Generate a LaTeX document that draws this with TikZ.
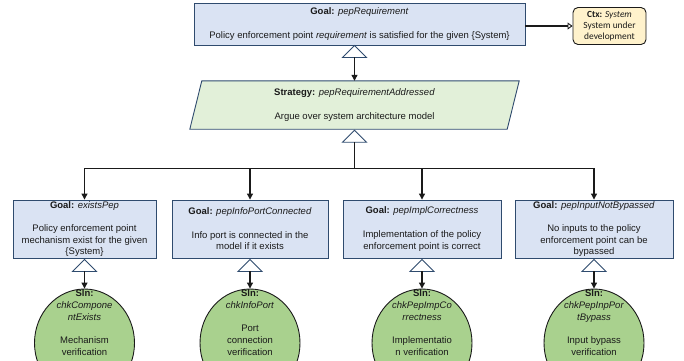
\documentclass[tikz,border=0pt]{standalone}
\usepackage{fontspec}
\setmainfont{Liberation Sans}
\newfontfamily\ctxfont{Carlito}
\usetikzlibrary{arrows.meta,calc,shapes.geometric,backgrounds}
\definecolor{goalfill}{HTML}{DAE3F3}
\definecolor{goalline}{HTML}{2F4B6E}
\definecolor{stratfill}{HTML}{E2F0D9}
\definecolor{slnfill}{HTML}{A9D18E}
\definecolor{ctxfill}{HTML}{FFF2CC}
\definecolor{ink}{HTML}{1A1A1A}

\begin{document}
\begin{tikzpicture}[x=1pt,y=-1pt,
  every node/.style={font=\fontsize{9.5}{11.7}\selectfont, inner sep=0pt, text=ink},
  goalbox/.style={draw=goalline, fill=goalfill, line width=0.9pt, align=center},
  stratbox/.style={align=center, minimum width=317pt, minimum height=48pt},
  stratshape/.style={draw=goalline, fill=stratfill, line width=0.9pt},
  ctxbox/.style={draw=ink, fill=ctxfill, line width=0.9pt, rounded corners=5pt,
    align=center, minimum width=73pt, minimum height=37pt,
    font=\ctxfont\fontsize{9.4}{11.2}\selectfont},
  slnshape/.style={ellipse, draw=ink, fill=slnfill, line width=0.9pt,
    minimum width=100pt, minimum height=108pt},
  slntext/.style={align=center, anchor=north},
  supp/.style={draw=ink, line width=1.1pt, -{Triangle[length=6pt,width=6pt]}},
  link/.style={draw=ink, line width=1.1pt},
  ctxlink/.style={draw=ink, line width=1.1pt, -{Triangle[open,length=5pt,width=7pt,line width=0.9pt]}},
  hollowtri/.style={draw=goalline, fill=white, line width=0.9pt, line join=miter},
]
\useasboundingbox (0,0) rectangle (684,360);
\clip (0,0) rectangle (684,360);

% top goal and its context
\node[goalbox, minimum width=331pt, minimum height=42pt] (g0) at (359.5,24)
  {\textbf{Goal:} \textit{pepRequirement}\\~\\Policy enforcement point \textit{requirement} is satisfied for the given \{System\}};
\node[ctxbox] (ctx) at (609.5,26) {\textbf{Ctx:} \textit{System}\\System under\\development};
\draw[ctxlink] (g0.east |- ctx.west) -- (ctx.west);

% strategy
\node[stratbox] (st) at (354.5,105)
  {\textbf{Strategy:} \textit{pepRequirementAddressed}\\~\\Argue over system architecture model};
\begin{scope}[on background layer]
  \draw[stratshape] ($(st.north west)+(6,0)$) -- ($(st.north east)+(6,0)$)
    -- ($(st.south east)+(-6,0)$) -- ($(st.south west)+(-6,0)$) -- cycle;
\end{scope}

% goal -> strategy
\coordinate (a0) at (g0.south -| st.center);
\draw[hollowtri] (a0) -- ++(12,12) -- ++(-24,0) -- cycle;
\coordinate (b0) at ($(a0)+(0,12)$);
\draw[supp] (b0) -- (st.north);

% sub-goals
\node[goalbox, minimum width=143pt, minimum height=58pt] (g1) at (84.5,229)
  {\textbf{Goal:} \textit{existsPep}\\~\\Policy enforcement point\\mechanism exist for the given\\\{System\}};
\node[goalbox, minimum width=156pt, minimum height=58pt] (g2) at (250,229)
  {\textbf{Goal:} \textit{pepInfoPortConnected}\\~\\Info port is connected in the\\model if it exists};
\node[goalbox, minimum width=158pt, minimum height=58pt] (g3) at (422,229)
  {\textbf{Goal:} \textit{pepImplCorrectness}\\~\\Implementation of the policy\\enforcement point is correct};
\node[goalbox, minimum width=158pt, minimum height=58pt] (g4) at (594,229)
  {\textbf{Goal:} \textit{pepInputNotBypassed}\\~\\No inputs to the policy\\enforcement point can be\\bypassed};

% strategy -> sub-goals
\coordinate (a1) at ($(st.south)+(0,1)$);
\draw[hollowtri] (a1) -- ++(12,12) -- ++(-24,0) -- cycle;
\coordinate (b1) at ($(a1)+(0,12)$);
\coordinate (bus) at ($(st.south)+(0,39)$);
\draw[link] (b1) -- (bus);
\draw[supp] (bus) -| (g1.north);
\draw[supp] (bus) -| (g2.north);
\draw[supp] (bus) -| (g3.north);
\draw[supp] (bus) -| (g4.north);

% solutions
\node[slnshape] (s1) at (84.5,343) {};
\node[slnshape] (s2) at (250,343) {};
\node[slnshape] (s3) at (422,343) {};
\node[slnshape] (s4) at (594,343) {};
\node[slntext] (s1t) at ($(s1.north)+(0,1)$)
  {\textbf{Sln:}\\\textit{chkCompone}\\\textit{ntExists}\\~\\Mechanism\\verification};
\node[slntext] (s2t) at ($(s2.north)+(0,1)$)
  {\textbf{Sln:}\\\textit{chkInfoPort}\\~\\Port\\connection\\verification};
\node[slntext] (s3t) at ($(s3.north)+(0,1)$)
  {\textbf{Sln:}\\\textit{chkPepImpCo}\\\textit{rrectness}\\~\\Implementatio\\n verification};
\node[slntext] (s4t) at ($(s4.north)+(0,1)$)
  {\textbf{Sln:}\\\textit{chkPepInpPor}\\\textit{tBypass}\\~\\Input bypass\\verification};

% sub-goals -> solutions
\foreach \i in {1,2,3,4}{
  \coordinate (c\i) at ($(g\i.south)+(0,1)$);
  \draw[hollowtri] (c\i) -- ++(12,12) -- ++(-24,0) -- cycle;
  \coordinate (d\i) at ($(c\i)+(0,12)$);
  \draw[supp] (d\i) -- (s\i.north);
}
\end{tikzpicture}
\end{document}
